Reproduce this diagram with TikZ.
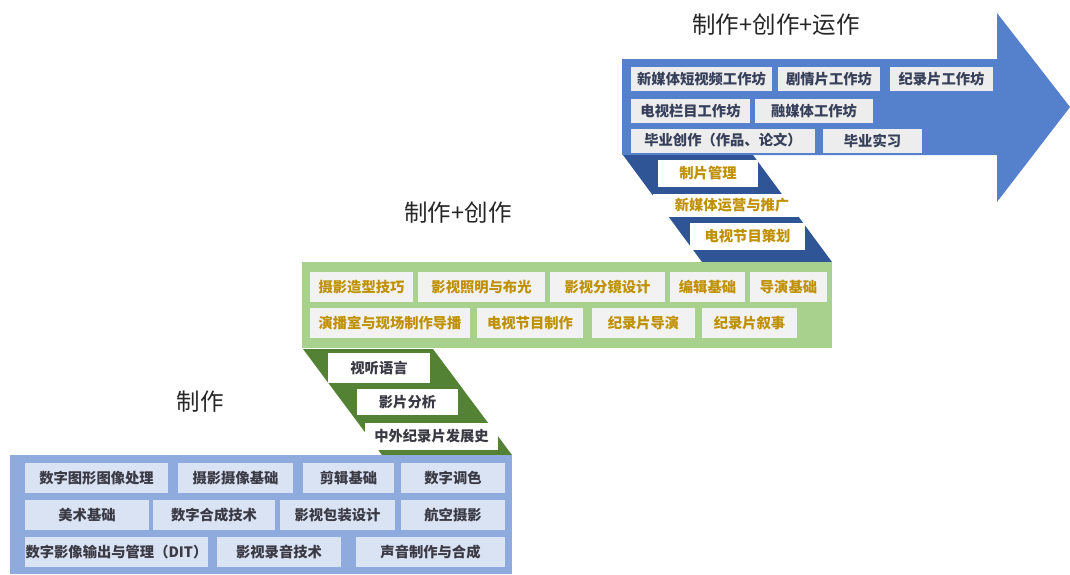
\documentclass[tikz,border=0pt]{standalone}
\usepackage{fontspec}
\setmainfont{Noto Sans CJK SC}
\definecolor{arrowblue}{HTML}{5580CC}
\definecolor{topbox}{HTML}{EDEDED}
\definecolor{toptext}{HTML}{36405A}
\definecolor{darkblue}{HTML}{2F5597}
\definecolor{gold}{HTML}{BF9000}
\definecolor{lightgreen}{HTML}{A9D18E}
\definecolor{greybox}{HTML}{F2F2F2}
\definecolor{darkgreen}{HTML}{548235}
\definecolor{periwinkle}{HTML}{8FAADC}
\definecolor{paleblue}{HTML}{DAE3F3}
\definecolor{darktext}{HTML}{3A3A44}
\tikzset{
  cbox/.style={inner sep=0pt, minimum height=#1, font=\fontsize{14.3}{16}\selectfont\bfseries},
  cbox/.default=30pt,
  topcell/.style={cbox=24pt, fill=topbox, text=toptext},
  greencell/.style={cbox=30pt, fill=greybox, text=gold},
  bluecell/.style={cbox=30pt, fill=paleblue, text=darktext},
  linkcell/.style={cbox=#1, fill=white},
  stagetitle/.style={font=\fontsize{23.5}{26}\selectfont, text=black!85}
}
\begin{document}
\begin{tikzpicture}[x=1pt,y=-1pt]
\path[use as bounding box] (0,0) rectangle (1070,574);
\fill[white] (0,0) rectangle (1070,574);

% ---------- top stage: arrow ----------
\node[stagetitle] (t3) at (776,25) {制作+创作+运作};
\fill[arrowblue] (622,59) -- (997,59) -- (997,13) -- (1070,107) -- (997,202) -- (997,155) -- (622,155) -- cycle;
\node[topcell, minimum width=141pt] (a1) at (701.5,79) {新媒体短视频工作坊};
\node[topcell, minimum width=102pt] (a2) at (829,79) {剧情片工作坊};
\node[topcell, minimum width=103pt] (a3) at (941.5,79) {纪录片工作坊};
\node[topcell, minimum width=119pt] (a4) at (690.5,111) {电视栏目工作坊};
\node[topcell, minimum width=118pt] (a5) at (814,111) {融媒体工作坊};
\node[topcell, minimum width=184pt] (a6) at (723,140.5) {毕业创作（作品、论文）};
\node[topcell, minimum width=99pt] (a7) at (872.5,140.5) {毕业实习};

% ---------- blue link ----------
\fill[darkblue] (623,155) -- (753,155) -- (832,262) -- (702,262) -- cycle;
\node[linkcell=27pt, minimum width=100pt, text=gold] (b1) at (708,173.5) {制片管理};
\node[linkcell=23pt, minimum width=158pt, text=gold] (b2) at (732,205) {新媒体运营与推广};
\node[linkcell=27pt, minimum width=115pt, text=gold] (b3) at (747.5,236.5) {电视节目策划};

% ---------- middle stage ----------
\node[stagetitle] (t2) at (458,213) {制作+创作};
\fill[lightgreen] (302,262) rectangle (832,348);
\node[greencell, minimum width=103pt] (g1) at (361.5,287) {摄影造型技巧};
\node[greencell, minimum width=127pt] (g2) at (481.5,287) {影视照明与布光};
\node[greencell, minimum width=115pt] (g3) at (607.5,287) {影视分镜设计};
\node[greencell, minimum width=75pt] (g4) at (707.5,287) {编辑基础};
\node[greencell, minimum width=77pt] (g5) at (788.5,287) {导演基础};
\node[greencell, minimum width=160pt] (g6) at (390,323) {演播室与现场制作导播};
\node[greencell, minimum width=106pt] (g7) at (530,323) {电视节目制作};
\node[greencell, minimum width=103pt] (g8) at (643.5,323) {纪录片导演};
\node[greencell, minimum width=95pt] (g9) at (749.5,323) {纪录片叙事};

% ---------- green link ----------
\fill[darkgreen] (303,349) -- (433,349) -- (512,455) -- (382,455) -- cycle;
\node[linkcell=30pt, minimum width=102pt, text=darktext] (l1) at (379,368) {视听语言};
\node[linkcell=26pt, minimum width=101pt, text=darktext] (l2) at (407.5,402) {影片分析};
\node[linkcell=27pt, minimum width=133pt, text=darktext] (l3) at (431.5,436.5) {中外纪录片发展史};

% ---------- bottom stage ----------
\node[stagetitle] (t1) at (200,402) {制作};
\fill[periwinkle] (10,455) rectangle (512,574);
\node[bluecell, minimum width=143pt] (p1) at (96.5,478) {数字图形图像处理};
\node[bluecell, minimum width=115pt] (p2) at (235.5,478) {摄影摄像基础};
\node[bluecell, minimum width=91pt] (p3) at (348.5,478) {剪辑基础};
\node[bluecell, minimum width=104pt] (p4) at (453,478) {数字调色};
\node[bluecell, minimum width=124pt] (p5) at (87,515) {美术基础};
\node[bluecell, minimum width=122pt] (p6) at (214,515) {数字合成技术};
\node[bluecell, minimum width=115pt] (p7) at (337.5,515) {影视包装设计};
\node[bluecell, minimum width=104pt] (p8) at (453,515) {航空摄影};
\node[bluecell, minimum width=183pt] (p9) at (116.5,552) {数字影像输出与管理（DIT）};
\node[bluecell, minimum width=124pt] (p10) at (279,552) {影视录音技术};
\node[bluecell, minimum width=149pt] (p11) at (430.5,552) {声音制作与合成};
\end{tikzpicture}
\end{document}
